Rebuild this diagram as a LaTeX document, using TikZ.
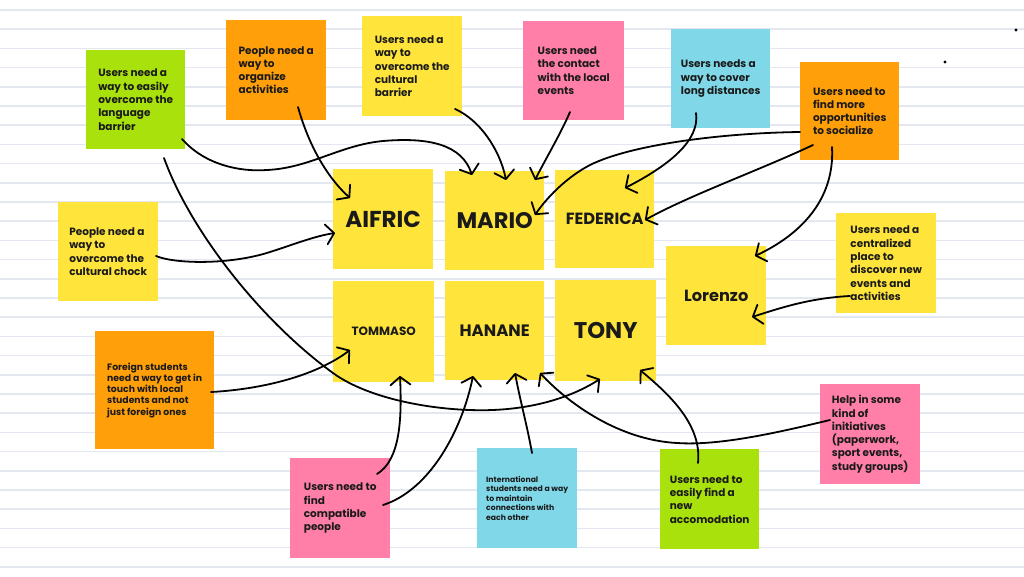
\documentclass[tikz,border=0pt]{standalone}
\usepackage{fontspec}
\setmainfont{Poppins}
\usetikzlibrary{arrows.meta}
\definecolor{rulecol}{HTML}{E3E8F0}
\definecolor{noteyellow}{HTML}{FFE53B}
\definecolor{noteorange}{HTML}{FF9F0A}
\definecolor{notegreen}{HTML}{A9E10C}
\definecolor{notepink}{HTML}{FF7FA9}
\definecolor{notecyan}{HTML}{7FD7E8}
\definecolor{ink}{HTML}{1A1A1A}

\begin{document}
\begin{tikzpicture}[x=1pt,y=-1pt,
  note/.style={fill=#1, draw=none, minimum width=100pt, minimum height=100pt,
    anchor=north west, inner sep=0pt, align=left, text=ink,
    font=\fontsize{10.5}{13.3}\selectfont\bfseries},
  smallnote/.style={note=#1, font=\fontsize{9.3}{11.3}\selectfont\bfseries},
  tinynote/.style={note=#1, font=\fontsize{7.7}{9.4}\selectfont\bfseries},
  person/.style={fill=noteyellow, minimum width=100pt, minimum height=100pt,
    anchor=north west, inner sep=0pt, text=ink},
  conn/.style={draw=black, line width=1.8pt, line cap=round, line join=round,
    -{Straight Barb[length=8pt,width=20pt,round]}},
]
% paper with ruled lines
\useasboundingbox (0,0) rectangle (1024,576);
\fill[white] (0,0) rectangle (1024,576);
\foreach \k in {0,...,29}
  \draw[rulecol, line width=1.6pt] (0,10+19.2*\k) -- (1024,10+19.2*\k);
\fill[black] (1016,30) circle (1.6);
\fill[black] (945,62) circle (1.6);

% need notes
\node[note=notegreen, minimum width=99pt, minimum height=99pt] (lang) at (86,50)
  {Users need a\\way to easily\\overcome the\\language\\barrier};
\node[note=noteorange] (organize) at (226,20)
  {People need a\\way to\\organize\\activities};
\node[note=noteyellow] (cultbar) at (362,16)
  {Users need a\\way to\\overcome the\\cultural\\barrier};
\node[note=notepink, minimum width=101pt, minimum height=99pt] (events) at (523,21)
  {Users need\\the contact\\with the local\\events};
\node[note=notecyan, minimum width=99pt, minimum height=99pt] (distances) at (671,29)
  {Users needs a\\way to cover\\long distances};
\node[note=noteorange, minimum width=99pt, minimum height=98pt] (socialize) at (800,62)
  {Users need to\\find more\\opportunities\\to socialize};
\node[note=noteyellow, minimum height=99pt] (chock) at (58,202)
  {People need a\\way to\\overcome the\\cultural chock};
\node[smallnote=noteorange, minimum width=119pt, minimum height=118pt] (foreign) at (95,331)
  {Foreign students\\need a way to get in\\touch with local\\students and not\\just foreign ones};
\node[note=notepink] (compatible) at (290,458)
  {Users need to\\find\\compatible\\people};
\node[tinynote=notecyan] (intl) at (477,448)
  {International\\students need a way\\to maintain\\connections with\\each other};
\node[note=notegreen, minimum width=99pt] (accom) at (660,449)
  {Users need to\\easily find a\\new\\accomodation};
\node[note=notepink] (help) at (820,384)
  {Help in some\\kind of\\initiatives\\(paperwork,\\sport events,\\study groups)};
\node[note=noteyellow] (central) at (836,213)
  {Users need a\\centralized\\place to\\discover new\\events and\\activities};

% people
\node[person, font=\fontsize{23}{26}\selectfont\bfseries] (aifric) at (333,169) {AIFRIC};
\node[person, minimum width=99pt, minimum height=99pt, font=\fontsize{22.5}{26}\selectfont\bfseries] (mario) at (445,171) {MARIO};
\node[person, minimum width=99pt, minimum height=98pt, font=\fontsize{16.2}{19}\selectfont\bfseries] (federica) at (555,170) {FEDERICA};
\node[person, minimum width=101pt, minimum height=101pt, font=\fontsize{12}{14}\selectfont\bfseries] (tommaso) at (333,281) {TOMMASO};
\node[person, minimum width=99pt, minimum height=99pt, font=\fontsize{16.5}{19}\selectfont\bfseries] (hanane) at (445,281) {HANANE};
\node[person, minimum width=101pt, minimum height=101pt, font=\fontsize{22.7}{26}\selectfont\bfseries] (tony) at (555,280) {TONY};
\node[person, minimum height=99pt, font=\fontsize{16.2}{19}\selectfont\bfseries] (lorenzo) at (666,246) {Lorenzo};

% connectors
\draw[conn] ([shift={(96,89)}]lang.north west)
  .. controls (205,165) and (240,172) .. (267,170)
  .. controls (310,168) and (340,145) .. (383,141)
  .. controls (430,137) and (462,145) .. ([shift={(27,4)}]mario.north west);
\draw[conn] ([shift={(78,108)}]lang.north west)
  .. controls (190,230) and (260,320) .. (333,373)
  .. controls (370,400) and (440,412) .. (493,410)
  .. controls (540,408) and (575,395) .. ([shift={(45,99)}]tony.north west);
\draw[conn] ([shift={(72,87)}]organize.north west)
  .. controls (310,150) and (330,180) .. ([shift={(17,29)}]aifric.north west);
\draw[conn] ([shift={(98,54)}]chock.north west)
  .. controls (175,264) and (230,265) .. (270,252)
  .. controls (295,244) and (315,236) .. ([shift={(2,64)}]aifric.north west);
\draw[conn] ([shift={(93,93)}]cultbar.north west)
  .. controls (480,120) and (500,150) .. ([shift={(61,9)}]mario.north west);
\draw[conn] ([shift={(47,91)}]events.north west)
  .. controls (560,135) and (545,160) .. ([shift={(90,9)}]mario.north west);
\draw[conn] ([shift={(25,84)}]distances.north west)
  .. controls (700,140) and (670,165) .. ([shift={(70,18)}]federica.north west);
\draw[conn] ([shift={(0,70)}]socialize.north west)
  .. controls (720,133) and (630,145) .. (590,165)
  .. controls (565,178) and (545,200) .. ([shift={(90,44)}]mario.north west);
\draw[conn] ([shift={(13,83)}]socialize.north west)
  .. controls (760,170) and (690,195) .. ([shift={(90,50)}]federica.north west);
\draw[conn] ([shift={(32,85)}]socialize.north west)
  .. controls (835,200) and (800,235) .. ([shift={(89,10)}]lorenzo.north west);
\draw[conn] ([shift={(14,83)}]central.north west)
  .. controls (810,298) and (780,308) .. ([shift={(86,71)}]lorenzo.north west);
\draw[conn] ([shift={(116,61)}]foreign.north west)
  .. controls (250,390) and (310,380) .. ([shift={(17,69)}]tommaso.north west);
\draw[conn] ([shift={(87,16)}]compatible.north west)
  .. controls (400,460) and (402,420) .. ([shift={(67,95)}]tommaso.north west);
\draw[conn] ([shift={(93,47)}]compatible.north west)
  .. controls (430,490) and (462,430) .. ([shift={(28,95)}]hanane.north west);
\draw[conn] ([shift={(55,5)}]intl.north west)
  .. controls (527,425) and (520,400) .. ([shift={(70,92)}]hanane.north west);
\draw[conn] ([shift={(10,36)}]help.north west)
  .. controls (780,432) and (720,446) .. (677,443)
  .. controls (620,440) and (570,405) .. ([shift={(95,92)}]hanane.north west);
\draw[conn] ([shift={(38,14)}]accom.north west)
  .. controls (702,425) and (670,395) .. ([shift={(85,90)}]tony.north west);
\end{tikzpicture}
\end{document}
